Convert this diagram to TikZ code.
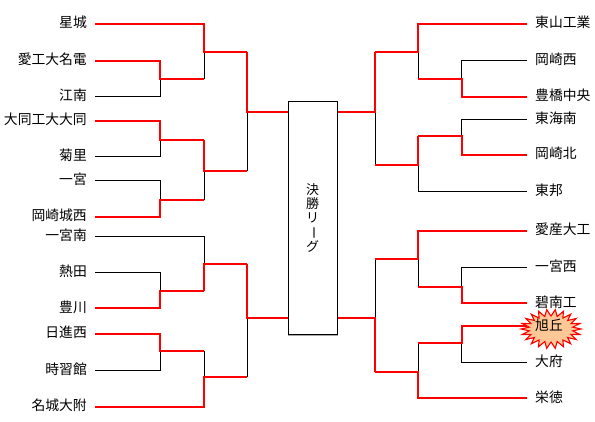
\documentclass[tikz,border=0pt]{standalone}
\usepackage{fontspec}
\setmainfont{Noto Sans CJK JP}
\definecolor{burstfill}{RGB}{255,200,150}
\begin{document}
\begin{tikzpicture}[x=1pt,y=-1pt,
  win/.style={draw=red,line width=1.7pt},
  lose/.style={draw=black,line width=0.8pt},
  lbl/.style={font=\fontsize{13.8}{16}\selectfont,inner sep=0pt,text height=0.88em,text depth=0.12em}]
\useasboundingbox (0,0) rectangle (595,421);
\fill[white] (0,0) rectangle (595,421);
% burst behind label
\draw[red,line width=1.1pt,fill=burstfill,line join=miter]
  plot[domain=0:43,samples=44] ({551+ifthenelse(mod(\x,2)==0,30,22)*cos(\x*360/44)},{329+ifthenelse(mod(\x,2)==0,19.5,13)*sin(\x*360/44)}) -- cycle;
% final box
\node[draw,line width=0.8pt,minimum width=49pt,minimum height=233.3pt,inner sep=0pt] (final) at (312.8,217.7) {};
\draw[gray!70,line width=0.8pt] ([yshift=-1pt]final.south west) -- ([yshift=-1pt]final.south east);
\node[font=\fontsize{13}{14}\selectfont,align=center,inner sep=0pt] (ftxt) at (312.5,218) {決\\勝\\リ\\\rotatebox[origin=c]{-90}{ー}\\グ};
% left labels
\foreach \n/\y/\t in {1/24/星城,2/60.7/愛工大名電,3/96.7/江南,4/120.7/大同工大大同,5/156.7/菊里,6/180.3/一宮,7/216.7/岡崎城西,8/236.3/一宮南,9/272.3/熱田,10/308.3/豊川,11/334/日進西,12/370.3/時習館,13/406.7/名城大附}
  \node[lbl,anchor=east] (l\n) at (87,\y) {\t};
% right labels
\foreach \n/\y/\t in {1/24/東山工業,2/60.7/岡崎西,3/96.7/豊橋中央,4/119.3/東海南,5/155/岡崎北,6/191.3/東邦,7/231/愛産大工,8/267.3/一宮西,9/303.3/碧南工,10/326.3/旭丘,11/362.3/大府,12/398.3/栄徳}
  \node[lbl,anchor=west] (r\n) at (535,\y) {\t};
% junctions
\coordinate (A23) at (160,79.3);
\coordinate (A45) at (160,140);
\coordinate (A67) at (160,200);
\coordinate (A910) at (160,291);
\coordinate (A1112) at (160,351);
\coordinate (B1) at (204,52);
\coordinate (B2) at (204,171);
\coordinate (B3) at (204,264.3);
\coordinate (B4) at (204,376.7);
\coordinate (C1) at (247,111.7);
\coordinate (C2) at (247,317.7);
\coordinate (D23) at (461.7,79.3);
\coordinate (D45) at (461.7,135.7);
\coordinate (D89) at (461.7,286.7);
\coordinate (D1011) at (461.7,342.7);
\coordinate (E1) at (418,52);
\coordinate (E2) at (418,164.7);
\coordinate (E3) at (418,259.3);
\coordinate (E4) at (418,372.3);
\coordinate (F1) at (375,111.7);
\coordinate (F2) at (375,318.3);
% losers (black)
\draw[lose] ([xshift=8pt]l3.east) -| (A23);
\draw[lose] ([xshift=8pt]l5.east) -| (A45);
\draw[lose] ([xshift=8pt]l6.east) -| (A67);
\draw[lose] (A23 -| B1) -- (B1);
\draw[lose] (A67 -| B2) -- (B2);
\draw[lose] (B2 -| C1) -- (C1);
\draw[lose] ([xshift=8pt]l9.east) -| (A910);
\draw[lose] ([xshift=8pt]l12.east) -| (A1112);
\draw[lose] ([xshift=8pt]l8.east) -| (B3);
\draw[lose] (A1112 -| B4) -- (B4);
\draw[lose] (B4 -| C2) -- (C2);
\draw[lose] ([xshift=-8.3pt]r2.west) -| (D23);
\draw[lose] ([xshift=-8.3pt]r4.west) -| (D45);
\draw[lose] (D23 -| E1) -- (E1);
\draw[lose] ([xshift=-8.3pt]r6.west) -| (E2);
\draw[lose] (E2 -| F1) -- (F1);
\draw[lose] ([xshift=-8.3pt]r8.west) -| (D89);
\draw[lose] ([xshift=-8.3pt]r11.west) -| (D1011);
\draw[lose] (D89 -| E3) -- (E3);
\draw[lose] (D1011 -| E4) -- (E4);
\draw[lose] (E3 -| F2) -- (F2);
% winners (red)
\draw[win] ([xshift=8pt]l2.east) -| (A23) -- (A23 -| B1);
\draw[win] ([xshift=8pt]l1.east) -| (B1) -- (B1 -| C1);
\draw[win] ([xshift=8pt]l4.east) -| (A45) -- (A45 -| B2);
\draw[win] ([xshift=8pt]l7.east) -| (A67) -- (A67 -| B2);
\draw[win] (A45 -| B2) -- (B2) -- (B2 -| C1);
\draw[win] (B1 -| C1) -- (C1) -- (C1 -| final.west);
\draw[win] ([xshift=8pt]l10.east) -| (A910) -- (A910 -| B3);
\draw[win] ([xshift=8pt]l11.east) -| (A1112) -- (A1112 -| B4);
\draw[win] (A910 -| B3) -- (B3) -- (B3 -| C2);
\draw[win] ([xshift=8pt]l13.east) -| (B4) -- (B4 -| C2);
\draw[win] (B3 -| C2) -- (C2) -- (C2 -| final.west);
\draw[win] ([xshift=-8.3pt]r3.west) -| (D23) -- (D23 -| E1);
\draw[win] ([xshift=-8.3pt]r1.west) -| (E1) -- (E1 -| F1);
\draw[win] ([xshift=-8.3pt]r5.west) -| (D45) -- (D45 -| E2);
\draw[win] (D45 -| E2) -- (E2) -- (E2 -| F1);
\draw[win] (E1 -| F1) -- (F1) -- (F1 -| final.east);
\draw[win] ([xshift=-8.3pt]r9.west) -| (D89) -- (D89 -| E3);
\draw[win] ([xshift=-8.3pt]r7.west) -| (E3) -- (E3 -| F2);
\draw[win] ([xshift=-8.3pt]r10.west) -| (D1011) -- (D1011 -| E4);
\draw[win] ([xshift=-8.3pt]r12.west) -| (E4) -- (E4 -| F2);
\draw[win] (E4 -| F2) -- (F2) -- (F2 -| final.east);
\end{tikzpicture}
\end{document}
